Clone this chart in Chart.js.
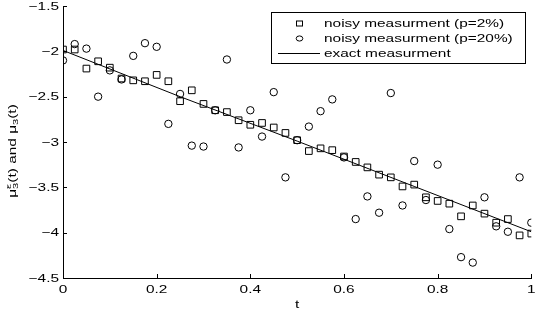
<!DOCTYPE html>
<html>
<head>
<meta charset="utf-8">
<script src="https://cdn.jsdelivr.net/npm/chart.js@4.4.1/dist/chart.umd.min.js"></script>
<style>
  body { margin: 0; background: #fff; }
  #wrap { width: 537px; height: 316px; position: relative; }
</style>
</head>
<body>
<div id="wrap"><canvas id="muChart"></canvas></div>
<script>
// sample times
const tValues = [0, 0.025, 0.05, 0.075, 0.1, 0.125, 0.15, 0.175, 0.2, 0.225,
  0.25, 0.275, 0.3, 0.325, 0.35, 0.375, 0.4, 0.425, 0.45, 0.475,
  0.5, 0.525, 0.55, 0.575, 0.6, 0.625, 0.65, 0.675, 0.7, 0.725,
  0.75, 0.775, 0.8, 0.825, 0.85, 0.875, 0.9, 0.925, 0.95, 0.975, 1];

// noisy measurement p=2% (squares)
const noisy2 = [-1.98, -1.98, -2.19, -2.11, -2.18, -2.30, -2.32, -2.33, -2.26, -2.33,
  -2.55, -2.43, -2.58, -2.65, -2.67, -2.76, -2.81, -2.79, -2.84, -2.90,
  -2.98, -3.10, -3.07, -3.09, -3.16, -3.22, -3.28, -3.36, -3.39, -3.49,
  -3.47, -3.61, -3.65, -3.68, -3.82, -3.70, -3.79, -3.89, -3.85, -4.03, -4.01];

// noisy measurement p=20% (circles)
const noisy20 = [-2.10, -1.92, -1.97, -2.50, -2.21, -2.31, -2.05, -1.91, -1.95, -2.80,
  -2.47, -3.04, -3.05, -2.65, -2.09, -3.06, -2.65, -2.94, -2.45, -3.39,
  -2.98, -2.83, -2.66, -2.53, -3.17, -3.85, -3.60, -3.78, -2.46, -3.70,
  -3.21, -3.64, -3.25, -3.96, -4.27, -4.33, -3.61, -3.93, -3.99, -3.39, -3.89];

// exact measurement line
const exactT = [0, 0.25, 0.5, 0.75, 1];
const exactV = [-1.99, -2.5, -2.99, -3.49, -3.99];

const xTicks = [0, 0.2, 0.4, 0.6, 0.8, 1];
const yTicks = [-4.5, -4, -3.5, -3, -2.5, -2, -1.5];

const FONT = 'Liberation Sans, Arial, sans-serif';
const SX = 1.4; // text in the original is drawn wide

function pts(xs, ys) {
    return xs.map((x, i) => ({ x: x, y: ys[i] }));
}

function fmt(v) {
    return String(v).replace('-', '\u2212');
}

function wideText(c, text, x, y, align, font) {
    c.save();
    c.font = font;
    const w = c.measureText(text).width * SX;
    let x0 = x;
    if (align === 'center') x0 = x - w / 2;
    if (align === 'right') x0 = x - w;
    c.translate(x0, y);
    c.scale(SX, 1);
    c.textAlign = 'left';
    c.fillText(text, 0, 0);
    c.restore();
}

// inward ticks, tick labels, legend box and axis labels
const decorPlugin = {
    id: 'decor',
    afterDraw(chart) {
        const c = chart.ctx;
        const xs = chart.scales.x, ys = chart.scales.y;
        const area = chart.chartArea;
        const f11 = '11px ' + FONT;
        c.save();
        c.strokeStyle = '#000';
        c.fillStyle = '#000';
        c.lineWidth = 1;
        c.beginPath();
        xTicks.forEach(v => {
            const px = Math.round(xs.getPixelForValue(v)) + 0.5;
            c.moveTo(px, area.bottom);
            c.lineTo(px, area.bottom - 4);
        });
        yTicks.forEach(v => {
            const py = Math.round(ys.getPixelForValue(v)) + 0.5;
            c.moveTo(area.left, py);
            c.lineTo(area.left + 4, py);
        });
        c.stroke();

        c.textBaseline = 'middle';
        xTicks.forEach(v => wideText(c, fmt(v), xs.getPixelForValue(v), 290, 'center', f11));
        yTicks.forEach(v => wideText(c, fmt(v), area.left - 4, ys.getPixelForValue(v) + 0.5, 'right', f11));
        wideText(c, 't', (area.left + area.right) / 2, 305, 'center', f11);

        // legend
        const lx = 271.5, ly = 12.5, lw = 254, lh = 51;
        c.fillStyle = '#fff';
        c.fillRect(lx, ly, lw, lh);
        c.strokeRect(lx, ly, lw, lh);
        c.fillStyle = '#000';
        const rows = [23.5, 38.5, 53.5];
        const labels = chart.data.datasets.map(d => d.label);
        c.strokeRect(296.5, rows[0] - 2.5, 6, 5);
        c.beginPath();
        c.ellipse(299.5, rows[1], 3.3, 2.6, 0, 0, Math.PI * 2);
        c.stroke();
        c.beginPath();
        c.moveTo(278, rows[2]);
        c.lineTo(320, rows[2]);
        c.stroke();
        labels.forEach((l, i) => wideText(c, l, 324, rows[i] + 0.5, 'left', f11));

        // y axis label: mu_3^eps(t) and mu_3(t)
        c.translate(13, 151);
        c.rotate(-Math.PI / 2);
        const big = '11px ' + FONT, small = '8px ' + FONT;
        const parts = [
            { t: '\u03bc', f: big, dy: 0, adv: true },
            { t: '\u03b5', f: small, dy: -4, adv: false },
            { t: '3', f: small, dy: 3, adv: true },
            { t: '(t) and \u03bc', f: big, dy: 0, adv: true },
            { t: '3', f: small, dy: 3, adv: true },
            { t: '(t)', f: big, dy: 0, adv: true }
        ];
        let total = 0;
        parts.forEach(p => { c.font = p.f; if (p.adv) total += c.measureText(p.t).width; });
        c.scale(SX, 1);
        let x = -total / 2;
        parts.forEach(p => {
            c.font = p.f;
            c.fillText(p.t, x, p.dy);
            if (p.adv) x += c.measureText(p.t).width;
        });
        c.restore();
    }
};

const ctx = document.getElementById('muChart').getContext('2d');
new Chart(ctx, {
    type: 'scatter',
    data: {
        datasets: [{
            label: 'noisy measurment (p=2%)',
            data: pts(tValues, noisy2),
            pointStyle: 'rect',
            pointRadius: 4.7,
            borderColor: '#000',
            backgroundColor: 'rgba(0,0,0,0)',
            borderWidth: 1
        }, {
            label: 'noisy measurment (p=20%)',
            data: pts(tValues, noisy20),
            pointStyle: 'circle',
            pointRadius: 3.7,
            borderColor: '#000',
            backgroundColor: 'rgba(0,0,0,0)',
            borderWidth: 1
        }, {
            label: 'exact measurment',
            data: pts(exactT, exactV),
            showLine: true,
            pointRadius: 0,
            borderColor: '#000',
            borderWidth: 1,
            fill: false
        }]
    },
    options: {
        responsive: true,
        maintainAspectRatio: false,
        animation: false,
        layout: { padding: { top: 6, right: 5, left: 0, bottom: 0 } },
        plugins: { legend: { display: false }, tooltip: { enabled: false } },
        scales: {
            x: {
                type: 'linear', min: 0, max: 1,
                afterBuildTicks: s => { s.ticks = xTicks.map(v => ({ value: v })); },
                afterFit: s => { s.height = 38; },
                grid: { display: true, drawOnChartArea: false, drawTicks: false },
                border: { color: '#000', width: 1 },
                ticks: { display: false }
            },
            y: {
                type: 'linear', min: -4.5, max: -1.5,
                afterBuildTicks: s => { s.ticks = yTicks.map(v => ({ value: v })); },
                afterFit: s => { s.width = 63; },
                grid: { display: true, drawOnChartArea: false, drawTicks: false },
                border: { color: '#000', width: 1 },
                ticks: { display: false }
            }
        }
    },
    plugins: [decorPlugin]
});
</script>
</body>
</html>
